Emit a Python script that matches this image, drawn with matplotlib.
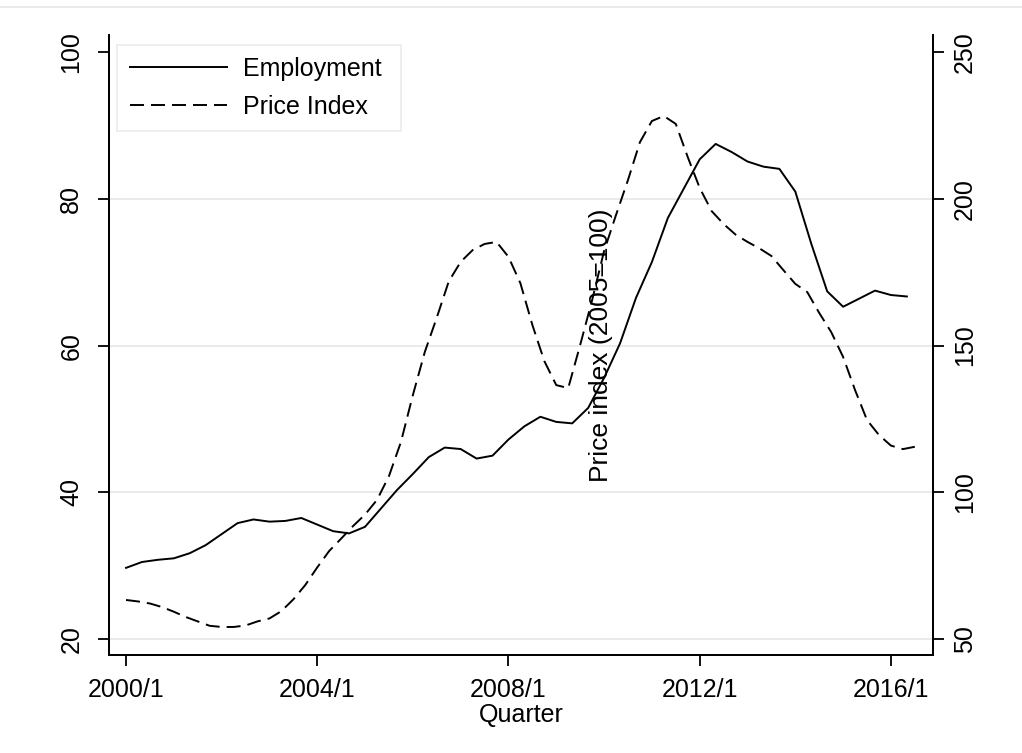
import numpy as np
import matplotlib
matplotlib.use("Agg")
import matplotlib.pyplot as plt
from matplotlib.lines import Line2D

plt.rcParams["font.family"] = ["Liberation Sans", "DejaVu Sans"]

# Employment: one reading every third of a year from 2000/1
employment = [
    29.7, 30.5, 30.8, 31.0, 31.7, 32.8, 34.3, 35.8, 36.3, 36.0,
    36.1, 36.5, 35.6, 34.7, 34.4, 35.3, 37.8, 40.3, 42.5, 44.8,
    46.1, 45.9, 44.6, 45.0, 47.2, 49.0, 50.3, 49.6, 49.4, 51.5,
    55.6, 60.3, 66.5, 71.4, 77.4, 81.4, 85.4, 87.5, 86.4, 85.1,
    84.4, 84.1, 81.0, 73.9, 67.4, 65.3, 66.4, 67.5, 66.9, 66.7,
]

# Price index (2005=100), quarterly from 2000/1
price_index = [
    63.3, 62.8, 62.1, 60.9, 59.3, 57.5, 56.0, 54.5, 54.1, 54.1,
    54.6, 56.0, 57.0, 59.5, 63.5, 68.4, 74.4, 80.0, 84.2, 88.5,
    92.4, 97.4, 105.5, 117.1, 133.1, 147.8, 159.5, 171.8, 178.5, 182.5,
    184.6, 185.3, 180.2, 171.2, 157.0, 144.7, 136.5, 135.5, 150.2, 165.5,
    182.2, 194.5, 206.4, 219.3, 226.5, 228.2, 225.5, 214.2, 203.7, 195.8,
    191.4, 187.8, 185.3, 183.1, 180.5, 175.7, 171.0, 168.2, 161.1, 154.6,
    146.1, 134.8, 124.6, 119.5, 115.9, 114.7, 115.5,
]

x_ticks = [2000, 2004, 2008, 2012, 2016]
x_labels = ["2000/1", "2004/1", "2008/1", "2012/1", "2016/1"]
left_ticks = [20, 40, 60, 80, 100]
right_ticks = [50, 100, 150, 200, 250]
grid_levels = [20, 40, 60, 80]

emp_x = 2000 + np.arange(len(employment)) / 3
price_x = 2000 + np.arange(len(price_index)) / 4

FS = 18
LW = 1.4
DASH = (0, (7.2, 3.6))
W, H = 1022, 753
fig = plt.figure(figsize=(W / 100, H / 100), dpi=100)
ax = fig.add_axes([109 / W, 1 - 655 / H, (933 - 109) / W, (655 - 35) / H])
ax2 = ax.twinx()

for g in grid_levels:
    ax.axhline(g, color="#e8e8e8", lw=1.3, zorder=0)

ax.plot(emp_x, employment, color="black", lw=LW)
ax2.plot(price_x, price_index, color="black", lw=LW, linestyle=DASH)

ax.set_xlim(1999.644, 2016.88)
ax.set_ylim(17.82, 102.35)
ax2.set_ylim(44.55, 255.8)

ax.set_xticks(x_ticks)
ax.set_xticklabels(x_labels, fontsize=FS)
ax.set_yticks(left_ticks)
ax.set_yticklabels([str(v) for v in left_ticks], fontsize=FS,
                   rotation=90, va="center")
ax2.set_yticks(right_ticks)
ax2.set_yticklabels([str(v) for v in right_ticks], fontsize=FS,
                    rotation=90, va="center")

for a in (ax, ax2):
    a.spines["top"].set_visible(False)
    for s in ("left", "right", "bottom"):
        a.spines[s].set_linewidth(1.3)
ax.tick_params(axis="x", length=8, width=1.3, pad=8.5)
ax.tick_params(axis="y", length=8, width=1.3, pad=10.5)
ax2.tick_params(axis="y", length=8, width=1.3, pad=6.5)

ax.set_xlabel("Quarter", fontsize=FS, labelpad=0.5)
# right-axis title, drawn where the original graph put it
ax.text(0.597, 0.5, "Price index (2005=100)", transform=ax.transAxes,
        rotation=90, ha="center", va="center", fontsize=19)

handles = [
    Line2D([], [], color="black", lw=LW),
    Line2D([], [], color="black", lw=LW, linestyle=DASH),
]
leg = ax.legend(handles, ["Employment ", "Price Index "], loc="upper left",
                bbox_to_anchor=(8 / 824, 1 - 9.7 / 620), fontsize=FS,
                frameon=True, fancybox=False, borderaxespad=0,
                handlelength=3.9, handletextpad=0.63, labelspacing=0.55,
                borderpad=0.5)
leg.get_frame().set_edgecolor("#e6e6e6")
leg.get_frame().set_linewidth(1.2)

fig.add_artist(Line2D([0, 1], [1 - 7 / H, 1 - 7 / H], transform=fig.transFigure,
                      color="#e8e8e8", lw=1.3))

fig.savefig("out.png", dpi=100)
